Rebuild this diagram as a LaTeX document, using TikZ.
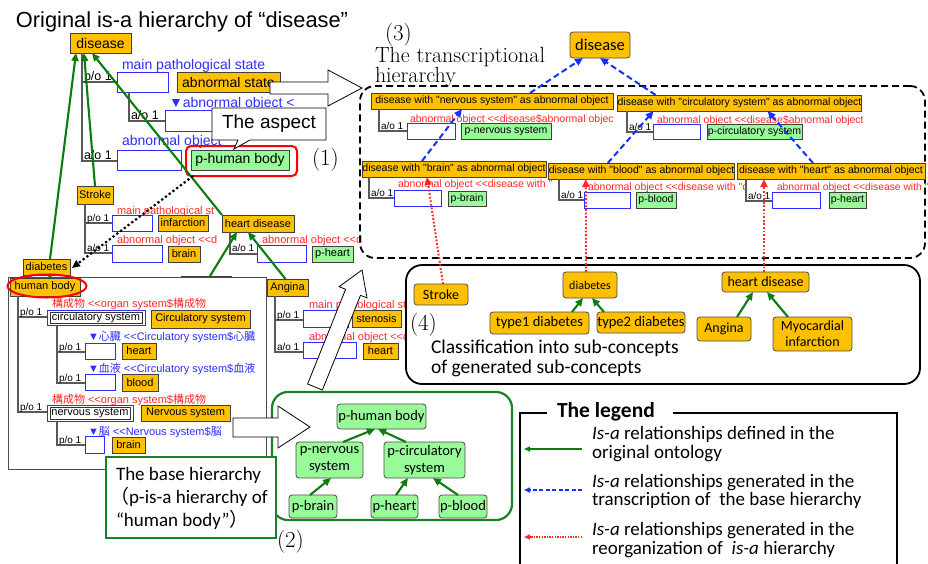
\documentclass[tikz,border=0pt]{standalone}
\usepackage{fontspec}
\usetikzlibrary{arrows.meta,calc,shapes.geometric}
\newfontfamily\arial[Ligatures=TeXOff]{Liberation Sans}
\newfontfamily\calib[Ligatures=TeXOff]{Carlito}
\newfontfamily\cjk{Noto Sans CJK JP}
\newcommand\fsz[1]{\fontsize{#1}{#1}\selectfont}
\definecolor{yel}{RGB}{255,192,0}
\definecolor{pgr}{RGB}{152,250,152}
\definecolor{bl}{RGB}{45,45,255}
\definecolor{rd}{RGB}{255,40,40}
\definecolor{gr}{RGB}{10,125,10}
\definecolor{frm}{RGB}{25,130,40}
\definecolor{dblue}{RGB}{20,50,255}
\tikzset{
 every node/.style={inner sep=0pt, outer sep=0pt},
 sz/.style 2 args={minimum width=#1, minimum height=#2},
 ybox/.style={draw=black!75, fill=yel, line width=0.8pt, font=\arial\fsz{11}},
 gbox/.style={draw=black!75, fill=pgr, line width=0.8pt, font=\arial\fsz{11}},
 bbox/.style={draw=bl, fill=white, line width=0.9pt},
 rybox/.style={draw=black!70, fill=yel, rounded corners=3pt, line width=0.8pt, font=\calib\fontsize{14}{16}\selectfont, align=center},
 rgbox/.style={draw=black!70, fill=pgr, rounded corners=3pt, line width=0.8pt, font=\calib\fontsize{14.5}{17}\selectfont, align=center},
 tree/.style={draw=black!65, line width=1.1pt},
 lbl/.style={anchor=base west, font=\arial\fsz{10}},
 btxt/.style={anchor=base west, text=bl, font=\arial\fsz{11}},
 rtxt/.style={anchor=base west, text=rd, font=\arial\fsz{11}},
 isa/.style={draw=gr, line width=2.1pt, -{Triangle[length=8pt,width=7pt]}},
 trans/.style={draw=dblue, line width=2pt, dash pattern=on 6pt off 3.5pt, -{Triangle[length=8pt,width=7pt]}},
 reorg/.style={draw=rd, line width=2pt, dash pattern=on 1.8pt off 1.8pt, -{Triangle[length=8pt,width=7pt]}},
 hollow/.style={draw=black, fill=white, line width=0.8pt},
 serif/.style={anchor=base west, font=\fsz{23}},
 rfont/.style={font=\arial\fsz{10.5}},
}
\begin{document}
\begin{tikzpicture}[x=1pt,y=-1pt]
\useasboundingbox (0,0) rectangle (928,563);
\fill[white] (0,0) rectangle (928,563);

% ---------- title
\node[anchor=base west, font=\arial\fsz{21.8}] (title) at (16,27) {Original is-a hierarchy of “disease”};

% ---------- top of original hierarchy
\node[ybox, font=\arial\fsz{14}, sz={61}{20}] (dis0) at (100.5,43) {disease};
\draw[tree] (82,53) -- (82,161) -- (117,161) (82,82) -- (117,82);
\node[lbl, font=\arial\fsz{12.5}] (lpo0) at (84,80) {p/o 1};
\node[bbox, sz={51}{20}] (bA1) at (142.5,82) {};
\node[btxt, font=\arial\fsz{14}] (tmps) at (122,69) {main pathological state};
\node[ybox, font=\arial\fsz{14}, sz={103}{20}] (abst) at (228.5,82) {abnormal state};
\draw[tree] (129,92) -- (129,121) -- (165,121);
\node[lbl, font=\arial\fsz{12.5}] (lao0) at (131,119) {a/o 1};
\node[bbox, sz={50}{21}] (bA2) at (190,120.5) {};
\node[btxt, font=\arial\fsz{14}] (tabo) at (169,107) {▼abnormal object <};
\node[btxt, font=\arial\fsz{14}] (tabo2) at (122,145) {abnormal object};
\node[lbl, font=\arial\fsz{12.5}] (lao1) at (84,159) {a/o 1};
\node[bbox, sz={64}{20}] (bA3) at (149,160) {};
\node[gbox, font=\arial\fsz{14}, sz={98}{20}] (phb) at (240,160) {p-human body};
\node[draw=red, line width=2pt, rounded corners=5pt, sz={111}{30}] (phring) at (241.5,161) {};
\node[serif] (n1) at (312,165) {(1)};

% ---------- Stroke
\node[ybox, sz={36}{18}] (stroke) at (95,195) {Stroke};
\draw[tree] (85,204) -- (85,253) -- (112,253) (85,223) -- (112,223);
\node[lbl] (slpo) at (87,221) {p/o 1};
\node[bbox, sz={40}{16}] (sb1) at (132,223) {};
\node[rtxt] (st1) at (117,214) {main pathological st};
\node[ybox, sz={50}{16}] (sinf) at (183,223) {infarction};
\node[lbl] (slao) at (87,251) {a/o 1};
\node[bbox, sz={50}{17}] (sb2) at (137,253.5) {};
\node[rtxt] (st2) at (117,243) {abnormal object <<d};
\node[ybox, sz={32}{16}] (sbrn) at (184,254) {brain};

% ---------- heart disease
\node[ybox, sz={72}{17}] (hd) at (258,223.5) {heart disease};
\draw[tree] (230,232) -- (230,254) -- (257,254);
\node[lbl] (hlao) at (232,251) {a/o 1};
\node[bbox, sz={49}{17}] (hdb) at (281.5,253.5) {};
\node[rtxt] (ht1) at (262,243) {abnormal object <<d};
\node[gbox, sz={41}{16}] (hdp) at (332.5,254) {p-heart};

% ---------- diabetes and hidden box
\node[ybox, sz={47}{16}] (diab) at (46.5,267) {diabetes};
\node[ybox, sz={50}{20}] (hid) at (206,286) {};

% green is-a arrows (original)
\draw[isa] ($(diab.north)+(3.5,0)$) -- ($(dis0.south west)+(6,0)$);
\draw[isa] (stroke.north) -- ($(dis0.south west)+(14,0)$);
\draw[isa] (hd.north west) -- ($(dis0.south west)+(22,0)$);
\draw[isa] ($(hid.north west)+(29,0)$) -- ($(hd.south west)+(15,0)$);
\draw[isa] ($(diab.south)+(3.5,14)$) -- ($(diab.south)+(3.5,-2)$);

% ---------- human body panel
\node[draw=black!70, fill=white, line width=1pt, sz={258}{192}] (panel) at (137,373) {};
\draw[tree] (31,275) -- (31,278);
\node[ybox, sz={70}{18}] (hb) at (45,287) {human body};
\node[draw=red, line width=2pt, ellipse, sz={79}{23}] (hbring) at (47,286) {};
\draw[tree] (18,296) -- (18,412) -- (47,412) (18,317) -- (47,317);
\node[rtxt] (pt1) at (52,307) {{\cjk 構成物} <<organ system\${\cjk 構成物}};
\node[lbl] (plpo1) at (20,315) {p/o 1};
\node[bbox, sz={98}{15}, font=\arial\fsz{11}] (cs) at (96,317.5) {circulatory system};
\draw[black!80, line width=0.8pt] ($(cs.north west)+(3,2)$) rectangle ($(cs.south east)+(-3,-2)$);
\node[ybox, sz={99}{18}] (csy) at (200.5,319) {Circulatory system};
\draw[tree] (57,325) -- (57,383) -- (85,383) (57,352) -- (85,352);
\node[btxt] (pt2) at (88,340) {▼{\cjk 心臓} <<Circulatory system\${\cjk 心臓}};
\node[lbl] (plpo2) at (59,350) {p/o 1};
\node[bbox, sz={30}{16}] (hb1) at (100,351) {};
\node[ybox, sz={34}{16}] (hrt) at (139,351) {heart};
\node[btxt] (pt3) at (88,372) {▼{\cjk 血液} <<Circulatory system\${\cjk 血液}};
\node[lbl] (plpo3) at (59,381) {p/o 1};
\node[bbox, sz={30}{16}] (hb2) at (100,382) {};
\node[ybox, sz={36}{17}] (bld) at (140,382.5) {blood};
\node[rtxt] (pt4) at (52,403) {{\cjk 構成物} <<organ system\${\cjk 構成物}};
\node[lbl] (plpo4) at (20,410) {p/o 1};
\node[bbox, sz={86}{16}, font=\arial\fsz{11}] (ns) at (90,413) {nervous system};
\draw[black!80, line width=0.8pt] ($(ns.north west)+(3,2)$) rectangle ($(ns.south east)+(-3,-2)$);
\node[ybox, sz={89}{16}] (nsy) at (185.5,413) {Nervous system};
\draw[tree] (57,421) -- (57,445) -- (85,445);
\node[btxt] (pt5) at (88,435) {▼{\cjk 脳} <<Nervous system\${\cjk 脳}};
\node[lbl] (plpo5) at (59,443) {p/o 1};
\node[bbox, sz={19}{17}] (hb3) at (94.5,445) {};
\node[ybox, sz={33}{16}] (brn) at (128.5,445) {brain};

% ---------- Angina
\node[ybox, sz={41}{17}] (ang) at (287.5,287.5) {Angina};
\draw[tree] (275,296) -- (275,352) -- (303,352) (275,320) -- (303,320);
\node[lbl] (alpo) at (277,318) {p/o 1};
\node[bbox, sz={45}{17}] (ab1) at (325.5,318.5) {};
\node[rtxt] (at1) at (309,308) {main pathological sta};
\node[ybox, sz={49}{17}] (sten) at (376.5,318.5) {stenosis};
\node[lbl] (alao) at (277,350) {a/o 1};
\node[bbox, sz={53}{16}] (ab2) at (329.5,350) {};
\node[rtxt] (at2) at (309,340) {abnormal object <<d};
\node[ybox, sz={35}{16}] (ahrt) at (380.5,351) {heart};
\draw[isa] ($(ang.north)+(-2,0)$) -- ($(hd.south west)+(26,0)$);

% ---------- (3) transcriptional hierarchy
\node[draw, line width=1.8pt, dash pattern=on 7pt off 4pt, rounded corners=15pt, sz={565}{172}] (reg3) at (642.5,172) {};
\node[serif] (n3) at (385,40) {(3)};
\node[anchor=north west, align=left, font=\fontsize{22}{19.5}\selectfont] (t3) at (375,47) {The transcriptional\\hierarchy};
\node[rybox, font=\calib\fsz{16.5}, sz={60}{26}] (dis3) at (600,45) {disease};

\node[ybox, rfont, sz={242}{16}] (dn) at (492,101) {disease with "nervous system" as abnormal object};
\draw[tree] (379,109) -- (379,131) -- (407,131);
\node[lbl] (dnl) at (381,129) {a/o 1};
\node[bbox, sz={48}{16}] (dnb) at (431,131) {};
\node[rtxt, rfont] (dnt) at (410,122) {abnormal object <<disease\$abnormal objec};
\node[gbox, rfont, sz={90}{16}] (pns) at (506,131) {p-nervous system};

\node[ybox, rfont, sz={241}{16}] (dc) at (739.5,103) {disease with "circulatory system" as abnormal object};
\draw[tree] (627,111) -- (627,132) -- (653,132);
\node[lbl] (dcl) at (629,130) {a/o 1};
\node[bbox, sz={47}{15}] (dcb) at (676.5,131.5) {};
\node[rtxt, rfont] (dct) at (657,123) {abnormal object <<disease\$abnormal object};
\node[gbox, rfont, sz={95}{15}] (pcs) at (754.5,131.5) {p-circulatory system};

\node[ybox, rfont, sz={184}{16}] (db) at (454,169) {disease with "brain" as abnormal object};
\draw[tree] (369,177) -- (369,198) -- (394,198);
\node[lbl] (dbl0) at (371,196) {a/o 1};
\node[bbox, sz={47}{16}] (dbb) at (417.5,198) {};
\node[rtxt, rfont] (dbt) at (398,187) {abnormal object <<disease with "};
\node[gbox, rfont, sz={38}{15}] (pbr) at (467,198.5) {p-brain};

\node[rtxt, rfont] (dblt) at (588,190) {abnormal object <<disease with "c};
\node[ybox, rfont, sz={181}{16}] (dbl) at (641.5,171) {disease with "blood" as abnormal object};
\draw[tree] (559,179) -- (559,200) -- (584,200);
\node[lbl] (dbll) at (561,198) {a/o 1};
\node[bbox, sz={46}{16}] (dblb) at (607,200) {};
\node[gbox, rfont, sz={40}{16}] (pbl) at (656,200) {p-blood};

\node[ybox, rfont, sz={188}{16}] (dh) at (831,171) {disease with "heart" as abnormal object};
\draw[tree] (746,179) -- (746,201) -- (772,201);
\node[lbl] (dhl) at (748,199) {a/o 1};
\node[bbox, sz={48}{16}] (dhb) at (796,200) {};
\node[rtxt, font=\arial\fsz{10.3}] (dht) at (777,190) {abnormal object <<disease with "};
\node[gbox, rfont, sz={37}{16}] (pht) at (847.5,200) {p-heart};

% ---------- (4) reorganization
\node[draw, fill=white, line width=1.8pt, rounded corners=16pt, sz={514}{119}] (reg4) at (663,324.5) {};
\node[rybox, sz={54}{21}] (stroke2) at (441,294.5) {Stroke};
\node[rybox, font=\calib\fsz{12}, sz={54}{26}] (diab2) at (590,285) {diabetes};
\node[rybox, font=\calib\fsz{14.5}, sz={99}{22}] (t1) at (539.5,323) {type1 diabetes};
\node[rybox, font=\calib\fsz{14.5}, sz={88}{21}] (t2) at (641,322.5) {type2 diabetes};
\node[rybox, sz={87}{20}] (hd2) at (765.5,282) {heart disease};
\node[rybox, sz={54}{24}] (ang2) at (724,329) {Angina};
\node[rybox, sz={79}{34}] (myo) at (812.5,334) {Myocardial\\infarction};
\node[serif] (n4) at (410,330) {(4)};
\node[anchor=base west, font=\calib\fsz{19.5}] (c4a) at (431,353) {Classification into sub-concepts};
\node[anchor=base west, font=\calib\fsz{19.5}] (c4b) at (431,373) {of generated sub-concepts};
\draw[isa] ($(t1.north)+(32.5,0)$) -- ($(diab2.south)+(-7,0)$);
\draw[isa] ($(t2.north west)+(7,0)$) -- ($(diab2.south)+(2,0)$);
\draw[isa] ($(ang2.north)+(13,0)$) -- ($(hd2.south)+(-12.5,0)$);
\draw[isa] ($(myo.north)+(-24.5,0)$) -- ($(hd2.south)+(1.5,0)$);

% ---------- (2) base hierarchy
\node[draw=frm, fill=white, line width=2.2pt, rounded corners=16pt, sz={240}{128}] (reg2) at (392,456) {};
\node[rgbox, sz={89}{25}] (ph) at (381.5,416.5) {p-human body};
\node[rgbox, sz={67}{36}] (pn) at (329.5,460) {p-nervous\\system};
\node[rgbox, sz={81}{36}] (pc) at (424.5,460) {p-circulatory\\system};
\node[rgbox, sz={48}{23}] (pb) at (313,506.5) {p-brain};
\node[rgbox, sz={47}{23}] (phe) at (394.5,506.5) {p-heart};
\node[rgbox, sz={48}{23}] (pbl2) at (463,506.5) {p-blood};
\draw[isa] ($(pn.north)+(13.5,0)$) -- ($(ph.south)+(-6.5,0)$);
\draw[isa] ($(pc.north)+(-18.5,0)$) -- ($(ph.south)+(-3.5,0)$);
\draw[isa] ($(pb.north)+(-3,0)$) -- ($(pn.south)+(1.5,0)$);
\draw[isa] ($(phe.north)+(1.5,0)$) -- ($(pc.south)+(-16.5,0)$);
\draw[isa] ($(pbl2.north)+(-5,0)$) -- ($(pc.south)+(8.5,0)$);
\node[serif] (n2) at (277,547) {(2)};

% ---------- hollow arrows and callout
\draw[hollow] (270,82) -- (328,82) -- (328,70) -- (362,88) -- (328,106) -- (328,94) -- (270,94) -- cycle;
\draw[hollow] (233,418) -- (278,418) -- (278,406) -- (310,427) -- (278,448) -- (278,437) -- (233,437) -- cycle;
\draw[hollow] (322.4,390) -- (360.5,295.3) -- (367,297.9) -- (362,270) -- (339.1,286.7) -- (345.6,289.3) -- (307.6,384) -- cycle;
\draw[hollow] (212,108) -- (326,108) -- (326,140) -- (250,140) -- (234,149) -- (238,140) -- (212,140) -- cycle;
\node[font=\arial\fsz{19}] (aspect) at (269,124) {The aspect};

% ---------- dotted black arrow
\draw[black, line width=2.2pt, dash pattern=on 2.2pt off 2.5pt, -{Triangle[length=8pt,width=7pt]}] ($(phring.south west)+(7,0)$) -- ($(diab.south east)+(2,-7)$);

% ---------- transcription arrows (blue)
\draw[trans] ($(dn.north west)+(159,0)$) -- ($(dis3.south west)+(13,0)$);
\draw[trans] ($(dc.north west)+(38,0)$) -- (dis3.south);
\draw[trans] ($(db.north west)+(60,0)$) -- ($(dn.south west)+(91,0)$);
\draw[trans] ($(dbl.north west)+(59,0)$) -- ($(dc.south west)+(36,0)$);
\draw[trans] ($(dh.north west)+(76,0)$) -- ($(dc.south west)+(150,0)$);

% ---------- reorganization arrows (red)
\draw[reorg] ($(stroke2.north)+(2,0)$) -- ($(db.south west)+(65,0)$);
\draw[reorg] ($(diab2.north)+(-4,0)$) -- ($(dbl.south west)+(37,0)$);
\draw[reorg] ($(hd2.north)+(-1.5,0)$) -- ($(dh.south west)+(27,0)$);

% ---------- base hierarchy label
\node[draw=frm, fill=white, line width=2.2pt, sz={170}{81}] (basebox) at (191,497.5) {};
\node[anchor=base west, font=\calib\fsz{19}] (bh1) at (116,480) {The base hierarchy};
\node[anchor=base west, font=\calib\fsz{19}] (bh2) at (110,503) {{\cjk （}p-is-a hierarchy of};
\node[anchor=base west, font=\calib\fsz{19}] (bh3) at (116,526) {“human body”{\cjk ）}};

% ---------- legend
\draw[line width=1.5pt] (547,413) -- (520,413) -- (520,570);
\draw[line width=1.5pt] (673,413) -- (897,413) -- (897,570);
\node[anchor=base west, font=\calib\bfseries\fsz{21.5}] (leg) at (557,417) {The legend};
\coordinate (l1a) at (582,449); \coordinate (l1b) at (524,449);
\coordinate (l2a) at (582,490); \coordinate (l2b) at (524,490);
\coordinate (l3a) at (582,537); \coordinate (l3b) at (524,537);
\draw[isa, line width=1.6pt, -{Triangle[length=6pt,width=5pt]}] (l1a) -- (l1b);
\draw[trans, line width=1.6pt, dash pattern=on 4pt off 2.5pt, -{Triangle[length=6pt,width=5pt]}] (l2a) -- (l2b);
\draw[reorg, line width=1.6pt, dash pattern=on 1.4pt off 1.2pt, -{Triangle[length=6pt,width=5pt]}] (l3a) -- (l3b);
\node[anchor=base west, font=\calib\fsz{19}] (lt1) at (592,439) {\textit{Is-a} relationships defined in the};
\node[anchor=base west, font=\calib\fsz{19}] (lt2) at (592,458) {original ontology};
\node[anchor=base west, font=\calib\fsz{19}] (lt3) at (592,487) {\textit{Is-a} relationships generated in the};
\node[anchor=base west, font=\calib\fsz{19}] (lt4) at (592,505) {transcription of\ \ the base hierarchy};
\node[anchor=base west, font=\calib\fsz{19}] (lt5) at (592,535) {\textit{Is-a} relationships generated in the};
\node[anchor=base west, font=\calib\fsz{19}] (lt6) at (592,554) {reorganization of\ \ \textit{is-a} hierarchy};
\end{tikzpicture}
\end{document}
